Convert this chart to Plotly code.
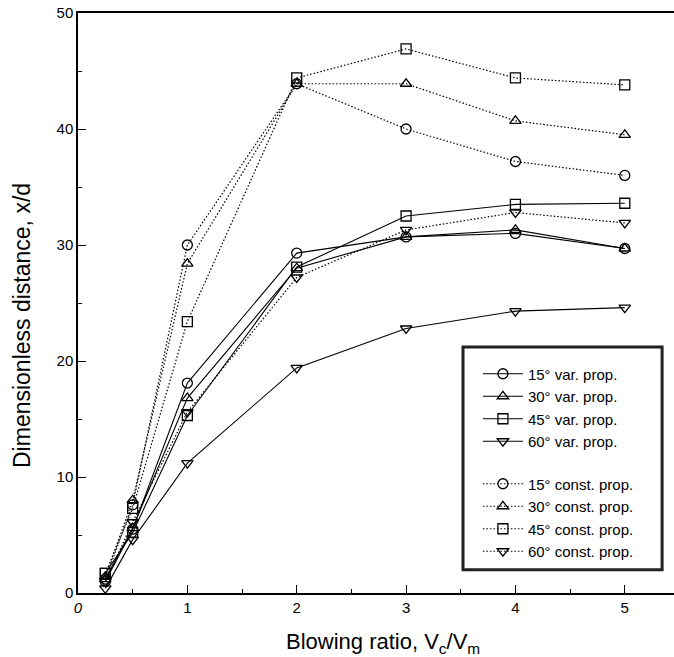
import plotly.graph_objects as go

x_vals = [0.25, 0.5, 1, 2, 3, 4, 5]

var15 = [1.0, 5.5, 18.1, 29.3, 30.7, 31.0, 29.7]
var30 = [1.2, 5.6, 16.8, 28.0, 30.7, 31.3, 29.7]
var45 = [1.7, 5.2, 15.3, 28.1, 32.5, 33.5, 33.6]
var60 = [0.4, 4.6, 11.2, 19.4, 22.8, 24.3, 24.6]

const15 = [1.2, 7.6, 30.0, 43.9, 40.0, 37.2, 36.0]
const30 = [1.4, 8.0, 28.4, 43.9, 43.9, 40.7, 39.5]
const45 = [1.7, 7.3, 23.4, 44.4, 46.9, 44.4, 43.8]
const60 = [1.0, 6.1, 15.6, 27.2, 31.3, 32.8, 31.9]

names_var = ["15° var. prop.", "30° var. prop.", "45° var. prop.", "60° var. prop."]
names_const = ["15° const. prop.", "30° const. prop.", "45° const. prop.", "60° const. prop."]
symbols = ["circle-open", "triangle-up-open", "square-open", "triangle-down-open"]

x_ticks = [0, 1, 2, 3, 4, 5]
x_ticktext = ["<i>0</i>", "1", "2", "3", "4", "5"]
y_ticks = [0, 10, 20, 30, 40, 50]

x_title = "Blowing ratio, V<sub>c</sub>/V<sub>m</sub>"
y_title = "Dimensionless distance, x/d"

FONT = "Liberation Sans, Arial, sans-serif"

fig = go.Figure()

for name, ys, sym in zip(names_var, [var15, var30, var45, var60], symbols):
    fig.add_trace(go.Scatter(
        x=x_vals, y=ys, name=name, mode="lines+markers", legendgroup="var",
        line=dict(color="black", width=1.1, dash="solid"),
        marker=dict(symbol=sym, size=10, color="black", line=dict(width=1.3, color="black")),
    ))

for name, ys, sym in zip(names_const, [const15, const30, const45, const60], symbols):
    fig.add_trace(go.Scatter(
        x=x_vals, y=ys, name=name, mode="lines+markers", legendgroup="const",
        line=dict(color="black", width=1.2, dash="1.5px,2px"),
        marker=dict(symbol=sym, size=10, color="black", line=dict(width=1.3, color="black")),
    ))

axis_font = dict(family=FONT, size=15, color="black")

fig.update_layout(
    width=674, height=657,
    margin=dict(l=78, r=0, t=13, b=64),
    paper_bgcolor="white", plot_bgcolor="white",
    font=dict(family=FONT, color="black"),
    showlegend=True,
    legend=dict(
        x=0.671, y=0.406, xanchor="left", yanchor="top",
        bgcolor="rgba(0,0,0,0)", borderwidth=0,
        font=dict(family=FONT, size=15, color="black"),
        traceorder="grouped", tracegroupgap=20,
        itemwidth=40,
    ),
    shapes=[dict(
        type="rect", xref="paper", yref="paper",
        x0=0.646, x1=0.980, y0=0.040, y1=0.424,
        line=dict(color="#222", width=3), fillcolor="white", layer="below",
    )],
    annotations=[
        dict(text=x_title, xref="paper", yref="paper", x=(383 - 78) / 596, y=-0.058,
             xanchor="center", yanchor="top", showarrow=False,
             font=dict(family=FONT, size=22, color="black")),
        dict(text=y_title, xref="paper", yref="paper", x=-(78 - 22) / 596, y=(593 - 326) / 580,
             xanchor="center", yanchor="middle", textangle=-90, showarrow=False,
             font=dict(family=FONT, size=23, color="black")),
    ],
    xaxis=dict(
        range=[0, 5.45], showgrid=False, zeroline=False,
        showline=True, linecolor="black", linewidth=1.5, mirror=True,
        ticks="inside", ticklen=8, tickwidth=1.2, tickcolor="black",
        tickvals=x_ticks, ticktext=x_ticktext, tickfont=axis_font,
        minor=dict(ticks="inside", ticklen=4, tickcolor="black", dtick=0.5, showgrid=False),
    ),
    yaxis=dict(
        range=[0, 50], showgrid=False, zeroline=False,
        showline=True, linecolor="black", linewidth=1.5, mirror=False,
        ticks="inside", ticklen=8, tickwidth=1.2, tickcolor="black",
        tickvals=y_ticks, tickfont=axis_font,
        minor=dict(ticks="inside", ticklen=4, tickcolor="black", dtick=5, showgrid=False),
    ),
)

fig.write_html("out.html", config={"displayModeBar": False},
               post_script="document.body.style.margin='0px';")
